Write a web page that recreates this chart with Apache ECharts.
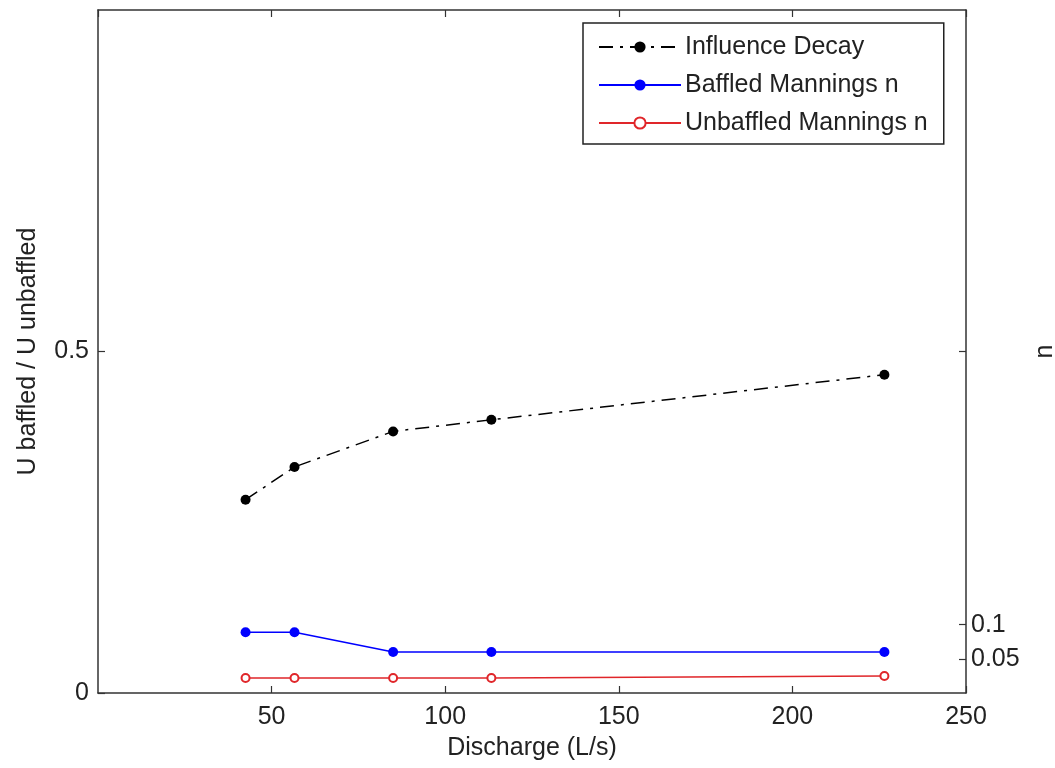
<!DOCTYPE html>
<html>
<head>
<meta charset="utf-8">
<script src="https://cdn.jsdelivr.net/npm/echarts@6/dist/echarts.min.js"></script>
<style>
html,body{margin:0;padding:0;background:#fff;}
#chart{width:1055px;height:768px;}
</style>
</head>
<body>
<div id="chart"></div>
<script>
const discharge = [42.5, 56.6, 85, 113.3, 226.5];
const influenceDecay = [0.283, 0.331, 0.383, 0.400, 0.466];
const baffledN = [0.089, 0.089, 0.060, 0.060, 0.060];
const unbaffledN = [0.022, 0.022, 0.022, 0.022, 0.025];
const seriesNames = ['Influence Decay', 'Baffled Mannings n', 'Unbaffled Mannings n'];
const rightTickValues = [0.05, 0.1, 0.5];
const rightLabelValues = [0.05, 0.1];

const FONT = 'Liberation Sans';
const FS = 25;
const TXT = '#222';
const AX = '#333';

function pairs(xs, ys){ return xs.map((x,i)=>[x, ys[i]]); }

const chart = echarts.init(document.getElementById('chart'), null, {renderer:'canvas'});
chart.setOption({
  backgroundColor:'#fff',
  animation:false,
  textStyle:{fontFamily:FONT},
  grid:{left:98, right:89, top:10, bottom:75, containLabel:false, outerBoundsMode:'none'},
  legend:{
    orient:'vertical', left:583, top:23,
    data:seriesNames,
    itemWidth:82, itemHeight:14, itemGap:8,
    padding:[9,16,6,15],
    borderColor:'#222', borderWidth:1.5, backgroundColor:'#fff',
    textStyle:{fontFamily:FONT, fontSize:FS, color:TXT, lineHeight:30, padding:[0,0,0,-1]}
  },
  xAxis:[{
    type:'value', position:'bottom', min:0, max:250, interval:50,
    name:'Discharge (L/s)', nameLocation:'middle', nameGap:43,
    nameTextStyle:{fontFamily:FONT, fontSize:FS, color:TXT},
    axisLine:{show:true, onZero:false, lineStyle:{color:AX, width:1.5}},
    axisTick:{show:true, inside:true, length:7, lineStyle:{color:AX, width:1.2}},
    axisLabel:{fontFamily:FONT, fontSize:FS, color:TXT, margin:12, showMinLabel:false},
    splitLine:{show:false}
  },{
    type:'value', position:'top', min:0, max:250, interval:50,
    axisLine:{show:true, onZero:false, lineStyle:{color:AX, width:1.5}},
    axisTick:{show:true, inside:true, length:7, lineStyle:{color:AX, width:1.2}},
    axisLabel:{show:false},
    splitLine:{show:false}
  }],
  yAxis:[{
    type:'value', position:'left', min:0, max:1, interval:0.5,
    name:'U baffled / U unbaffled', nameLocation:'middle', nameGap:57, nameRotate:90,
    nameTextStyle:{fontFamily:FONT, fontSize:FS, color:TXT},
    axisLine:{show:true, onZero:false, lineStyle:{color:AX, width:1.5}},
    axisTick:{show:true, inside:true, length:7, lineStyle:{color:AX, width:1.2}},
    axisLabel:{fontFamily:FONT, fontSize:FS, color:TXT, margin:9, showMaxLabel:false,
      formatter:function(v){return String(v);}},
    splitLine:{show:false}
  },{
    type:'value', position:'right', min:0, max:1,
    name:'n', nameLocation:'middle', nameGap:67, nameRotate:90,
    nameTextStyle:{fontFamily:FONT, fontSize:FS, color:TXT},
    axisLine:{show:true, onZero:false, lineStyle:{color:AX, width:1.5}},
    axisTick:{show:true, inside:true, length:7, customValues:rightTickValues, lineStyle:{color:AX, width:1.2}},
    axisLabel:{fontFamily:FONT, fontSize:FS, color:TXT, margin:5, customValues:rightLabelValues,
      formatter:function(v){return String(v);}},
    splitLine:{show:false}
  }],
  series:[{
    name:seriesNames[0], type:'line', xAxisIndex:0, yAxisIndex:0,
    data:pairs(discharge, influenceDecay),
    symbol:'circle', symbolSize:10,
    itemStyle:{color:'#000'},
    lineStyle:{color:'#000', width:1.5, type:[14,7,3,7]}
  },{
    name:seriesNames[1], type:'line', xAxisIndex:0, yAxisIndex:1,
    data:pairs(discharge, baffledN),
    symbol:'circle', symbolSize:10,
    itemStyle:{color:'#0000ff'},
    lineStyle:{color:'#0000ff', width:1.5}
  },{
    name:seriesNames[2], type:'line', xAxisIndex:0, yAxisIndex:1,
    data:pairs(discharge, unbaffledN),
    symbol:'emptyCircle', symbolSize:8,
    itemStyle:{color:'#e0262a', borderColor:'#e0262a', borderWidth:1.5},
    lineStyle:{color:'#e0262a', width:1.5}
  }]
});
</script>
</body>
</html>
